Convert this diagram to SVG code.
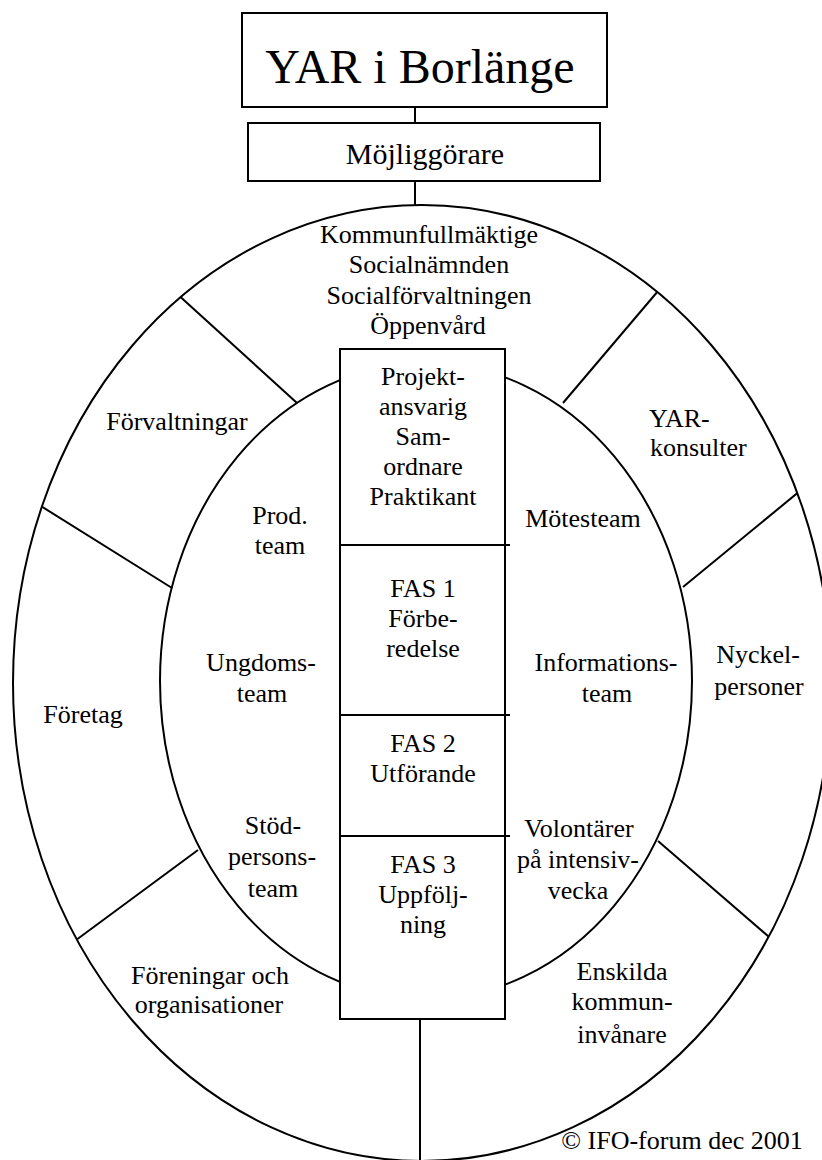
<svg xmlns="http://www.w3.org/2000/svg" width="822" height="1160" viewBox="0 0 822 1160">
<style>
  .ln{fill:none;stroke:#000;stroke-width:2}
  .box{fill:#fff;stroke:#000;stroke-width:2}
  .t{font-family:"Liberation Serif","Times New Roman",serif;font-size:26px;fill:#000;text-anchor:middle}
  .l{text-anchor:start}
</style>
<defs>
  <clipPath id="outerClip"><ellipse cx="422" cy="683" rx="409" ry="478"/></clipPath>
</defs>
<rect width="822" height="1160" fill="#fff"/>

<g id="connectors">
  <line class="ln" x1="415" y1="107" x2="415" y2="123"/>
  <line class="ln" x1="415" y1="181" x2="415" y2="205"/>
  <line class="ln" x1="420" y1="1019" x2="420" y2="1160"/>
</g>

<g id="title">
  <rect class="box" x="242" y="13" width="365" height="94"/>
  <text class="t" x="420" y="83" style="font-size:48px">YAR i Borlänge</text>
</g>

<g id="mojliggorare">
  <rect class="box" x="248" y="123" width="352" height="58"/>
  <text class="t" x="425" y="164" style="font-size:30px">Möjliggörare</text>
</g>

<g id="outer-ring">
  <ellipse class="ln" cx="422" cy="683" rx="409" ry="478"/>
  <g clip-path="url(#outerClip)">
    <line class="ln" x1="297" y1="403" x2="175" y2="292"/>
    <line class="ln" x1="172" y1="588" x2="36" y2="503"/>
    <line class="ln" x1="198" y1="850" x2="68" y2="946"/>
    <line class="ln" x1="563" y1="403" x2="664" y2="284"/>
    <line class="ln" x1="683" y1="587" x2="806" y2="486"/>
    <line class="ln" x1="658" y1="841" x2="776" y2="943"/>
  </g>
  <text class="t" x="429" y="243">Kommunfullmäktige</text>
  <text class="t" x="429" y="273">Socialnämnden</text>
  <text class="t" x="429" y="304">Socialförvaltningen</text>
  <text class="t" x="428" y="334">Öppenvård</text>
  <text class="t" x="177" y="430">Förvaltningar</text>
  <text class="t l" x="649" y="427">YAR-</text>
  <text class="t l" x="650" y="456">konsulter</text>
  <text class="t" x="83" y="723">Företag</text>
  <text class="t" x="758" y="663">Nyckel-</text>
  <text class="t" x="759" y="695">personer</text>
  <text class="t" x="210" y="984">Föreningar och</text>
  <text class="t" x="209" y="1013">organisationer</text>
  <text class="t" x="622" y="980">Enskilda</text>
  <text class="t" x="622" y="1010">kommun-</text>
  <text class="t" x="622" y="1043">invånare</text>
</g>

<g id="inner-ring">
  <ellipse class="ln" cx="426" cy="681" rx="266" ry="318"/>
  <text class="t" x="280" y="524">Prod.</text>
  <text class="t" x="280" y="554">team</text>
  <text class="t" x="583" y="527">Mötesteam</text>
  <text class="t" x="261" y="671">Ungdoms-</text>
  <text class="t" x="262" y="702">team</text>
  <text class="t" x="606" y="671">Informations-</text>
  <text class="t" x="607" y="702">team</text>
  <text class="t" x="273" y="834">Stöd-</text>
  <text class="t" x="272" y="865">persons-</text>
  <text class="t" x="273" y="897">team</text>
  <text class="t" x="579" y="837">Volontärer</text>
  <text class="t" x="578" y="868">på intensiv-</text>
  <text class="t" x="578" y="899">vecka</text>
</g>

<g id="center-column">
  <rect class="box" x="340" y="349" width="165" height="670"/>
  <line class="ln" x1="340" y1="545" x2="510" y2="545"/>
  <line class="ln" x1="340" y1="715" x2="510" y2="715"/>
  <line class="ln" x1="340" y1="836" x2="510" y2="836"/>
  <text class="t" x="423" y="385">Projekt-</text>
  <text class="t" x="423" y="415">ansvarig</text>
  <text class="t" x="423" y="445">Sam-</text>
  <text class="t" x="423" y="475">ordnare</text>
  <text class="t" x="423" y="505">Praktikant</text>
  <text class="t" x="423" y="597">FAS 1</text>
  <text class="t" x="423" y="627">Förbe-</text>
  <text class="t" x="423" y="657">redelse</text>
  <text class="t" x="423" y="752">FAS 2</text>
  <text class="t" x="423" y="782">Utförande</text>
  <text class="t" x="423" y="873">FAS 3</text>
  <text class="t" x="423" y="903">Uppfölj-</text>
  <text class="t" x="423" y="933">ning</text>
</g>

<g id="copyright">
  <text class="t" x="682" y="1149">© IFO-forum dec 2001</text>
</g>
</svg>
